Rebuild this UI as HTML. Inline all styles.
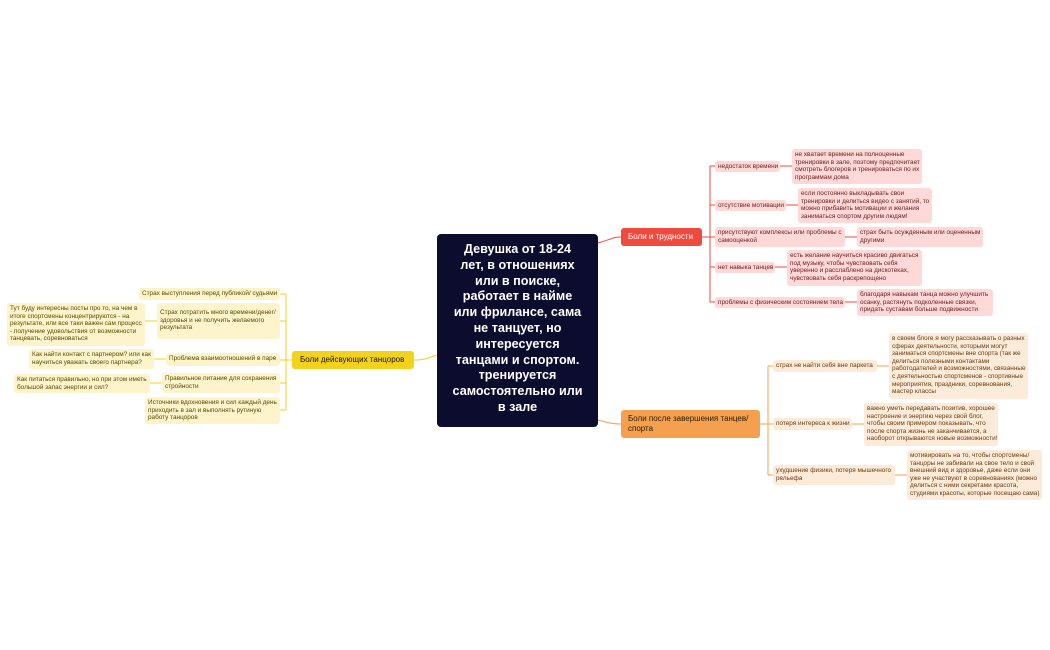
<!DOCTYPE html>
<html><head><meta charset="utf-8"><style>
body{margin:0;width:1050px;height:650px;background:#fff;position:relative;overflow:hidden;font-family:"Liberation Sans","DejaVu Sans",sans-serif}
.n{position:absolute;box-sizing:border-box;border-radius:3px;font-size:6.4px;line-height:7.6px;padding:2px 3px;white-space:nowrap;overflow:hidden}
.r{background:#ffd8d8;color:#6e2020}
.o{background:#fdebd9;color:#6a3a10}
.y{background:#fdf4cc;color:#5a4a00}
.c{display:flex;align-items:center}
</style></head><body>
<svg width="1050" height="650" style="position:absolute;left:0;top:0" fill="none">
<g stroke="#f04a3f" stroke-width="1">
<path d="M598 243 C610 240 612 237 621 237"/>
<path d="M702 237 H710"/>
<path d="M710 166 V302 M710 166 H715 M710 205 H715 M710 237 H715 M710 267 H715 M710 302 H715"/>
<path d="M780 166 H792 M786 205 H798 M845 237 H857 M775 267 H787 M845 302 H857"/>
</g>
<g stroke="#f5a04e" stroke-width="1">
<path d="M598 420 C610 423 612 424 621 424"/>
<path d="M760 424 H768 M768 366 V475 M768 366 H773 M768 424 H773 M768 475 H773"/>
<path d="M877 366 H889 M852 424 H864 M895 475 H907"/>
</g>
<g stroke="#f2d21c" stroke-width="1">
<path d="M437 355 C428 358 425 360 414 360"/>
<path d="M292 360 H286 M286 294 V410 M280 294 H286 M280 321 H286 M280 360 H286 M280 383 H286 M280 410 H286"/>
<path d="M145 321 H157 M154 359 H166 M150 383 H162"/>
</g>
</svg>

<div class="n" style="left:437px;top:234px;width:161px;height:193px;background:#0c0c2e;border-radius:4px;color:#fff;font-size:12.6px;line-height:15.8px;font-weight:bold;text-align:center;padding:8px 0">Девушка от 18-24<br>лет, в отношениях<br>или в поиске,<br>работает в найме<br>или фрилансе, сама<br>не танцует, но<br>интересуется<br>танцами и спортом.<br>тренируется<br>самостоятельно или<br>в зале</div>

<div class="n c" style="left:621px;top:228px;width:81px;height:18px;background:#f04a3f;color:#fff;font-size:8px;padding-left:7px">Боли и трудности</div>
<div class="n r" style="left:715px;top:161px;width:65px;height:11px">недостаток времени</div>
<div class="n r" style="left:792px;top:149px;width:130px;height:35px">не хватает времени на полноценные<br>тренировки в зале, поэтому предпочитает<br>смотреть блогеров и тренироваться по их<br>программам дома</div>
<div class="n r" style="left:715px;top:200px;width:71px;height:11px">отсутствие мотивации</div>
<div class="n r" style="left:798px;top:188px;width:134px;height:35px">если постоянно выкладывать свои<br>тренировки и делиться видео с занятий, то<br>можно прибавить мотивации и желания<br>заниматься спортом другим людям!</div>
<div class="n r" style="left:715px;top:227px;width:130px;height:20px">присутствуют комплексы или проблемы с<br>самооценкой</div>
<div class="n r" style="left:857px;top:227px;width:126px;height:20px">страх быть осужденным или оцененным<br>другими</div>
<div class="n r" style="left:715px;top:262px;width:60px;height:11px">нет навыка танцев</div>
<div class="n r" style="left:787px;top:250px;width:135px;height:36px">есть желание научиться красиво двигаться<br>под музыку, чтобы чувствовать себя<br>уверенно и расслаблено на дискотеках,<br>чувствовать себя раскрепощено</div>
<div class="n r" style="left:715px;top:297px;width:130px;height:11px">проблемы с физическим состоянием тела</div>
<div class="n r" style="left:857px;top:289px;width:136px;height:27px">благодаря навыкам танца можно улучшить<br>осанку, растянуть подколенные связки,<br>придать суставам больше подвижности</div>

<div class="n" style="left:621px;top:410px;width:139px;height:28px;background:#f5a04e;color:#2a1a05;font-size:8px;line-height:10px;padding:4px 7px">Боли после завершения танцев/<br>спорта</div>
<div class="n o" style="left:773px;top:360px;width:104px;height:12px">страх не найти себя вне паркета</div>
<div class="n o" style="left:889px;top:333px;width:139px;height:66px">в своем блоге я могу рассказывать о разных<br>сферах деятельности, которыми могут<br>заниматься спортсмены вне спорта (так же<br>делиться полезными контактами<br>работодателей и возможностями, связанные<br>с деятельностью спортсменов - спортивные<br>мероприятия, праздники, соревнования,<br>мастер классы</div>
<div class="n o" style="left:773px;top:418px;width:79px;height:12px">потеря интереса к жизни</div>
<div class="n o" style="left:864px;top:403px;width:134px;height:43px">важно уметь передавать позитив, хорошее<br>настроение и энергию через свой блог,<br>чтобы своим примером показывать, что<br>после спорта жизнь не заканчивается, а<br>наоборот открываются новые возможности!</div>
<div class="n o" style="left:773px;top:465px;width:122px;height:20px">ухудшение физики, потеря мышечного<br>рельефа</div>
<div class="n o" style="left:907px;top:450px;width:135px;height:50px">мотивировать на то, чтобы спортсмены/<br>танцоры не забивали на свое тело и свой<br>внешний вид и  здоровье, даже если они<br>уже не участвуют в соревнованиях (можно<br>делиться с ними секретами красота,<br>студиями красоты, которые посещаю сама)</div>

<div class="n c" style="left:292px;top:351px;width:122px;height:18px;background:#f2d21c;color:#1a1400;font-size:8px;padding-left:8px">Боли дейсвующих танцоров</div>
<div class="n y" style="left:139px;top:288px;width:141px;height:12px">Страх выступления перед публикой/ судьями</div>
<div class="n y" style="left:157px;top:303px;width:123px;height:36px;padding-top:6px">Страх потратить много времени/денег/<br>здоровья и не получить желаемого<br>результата</div>
<div class="n y" style="left:7px;top:303px;width:138px;height:43px">Тут буду интересны посты про то, на чем в<br>итоге спортсмены концентрируются - на<br>результате, или все таки важен сам процесс<br>- получение удовольствия от возможности<br>танцевать, соревноваться</div>
<div class="n y" style="left:166px;top:353px;width:114px;height:13px">Проблема взаимоотношений в паре</div>
<div class="n y" style="left:29px;top:349px;width:125px;height:20px">Как найти контакт с партнером? или как<br>научиться уважать своего партнера?</div>
<div class="n y" style="left:162px;top:373px;width:118px;height:20px">Правильное питание для сохранения<br>стройности</div>
<div class="n y" style="left:14px;top:374px;width:136px;height:19px">Как питаться правильно, но при этом иметь<br>большой запас энергии и сил?</div>
<div class="n y" style="left:145px;top:397px;width:135px;height:27px">Источники вдохновения и сил каждый день<br>приходить в зал и выполнять рутиную<br>работу танцоров</div>
</body></html>
